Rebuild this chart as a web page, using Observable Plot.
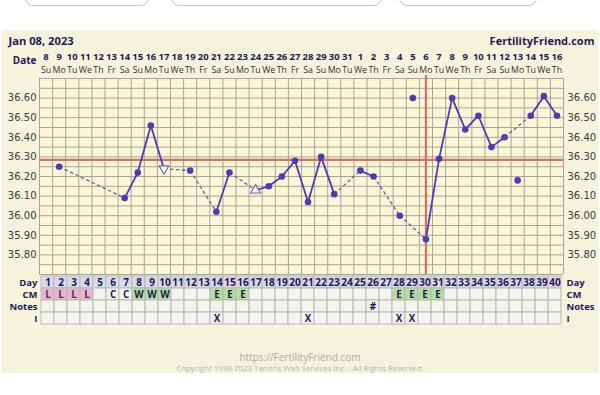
<!DOCTYPE html>
<html><head><meta charset="utf-8">
<script src="https://cdn.jsdelivr.net/npm/d3@7"></script>
<script src="https://cdn.jsdelivr.net/npm/@observablehq/plot@0.6"></script>
<style>
body{margin:0;background:#fff;font-family:"Open Sans",sans-serif;}
#wrap{position:relative;width:600px;height:395px;overflow:hidden;background:#fff;}
.btn{position:absolute;top:-22px;height:26px;border:1px solid #c4c4c4;border-radius:8px;background:#fff;}
#panel{position:absolute;left:2px;top:30px;width:596px;height:343px;background:#f6f3dd;}
.layer{position:absolute;left:0;top:0;}
.foot{position:absolute;left:0;width:600px;text-align:center;color:#aaa;font-family:"Open Sans",sans-serif;white-space:nowrap;}
</style></head><body>
<div id="wrap">
  <div class="btn" style="left:25px;width:122px"></div>
  <div class="btn" style="left:171px;width:209px"></div>
  <div class="btn" style="left:399px;width:136px"></div>
  <div id="panel"></div>
  <div id="chart" class="layer"></div>
  <div id="table" class="layer"></div>
  <div class="foot" style="top:351px;height:12px;line-height:12px;font-size:10px;color:#a9a9a9">https://FertilityFriend.com</div>
  <div class="foot" style="top:364px;height:9px;line-height:9px;font-size:7.8px;color:#b5b5b5">Copyright 1998-2023 Tamtris Web Services Inc. - All Rights Reserved.</div>
</div>
<script>
// ---------- data ----------
const chartDate = "Jan 08, 2023";
const siteName = "FertilityFriend.com";
const dateLabels = ["8","9","10","11","12","13","14","15","16","17","18","19","20","21","22","23","24","25","26","27","28","29","30","31","1","2","3","4","5","6","7","8","9","10","11","12","13","14","15","16"];
const weekdayLabels = ["Su","Mo","Tu","We","Th","Fr","Sa","Su","Mo","Tu","We","Th","Fr","Sa","Su","Mo","Tu","We","Th","Fr","Sa","Su","Mo","Tu","We","Th","Fr","Sa","Su","Mo","Tu","We","Th","Fr","Sa","Su","Mo","Tu","We","Th"];
const tempDays = [2,7,8,9,10,12,14,15,17,18,19,20,21,22,23,25,26,28,30,31,32,33,34,35,36,38,39,40];
const temps    = [36.25,36.09,36.22,36.46,36.24,36.23,36.02,36.22,36.13,36.15,36.20,36.28,36.07,36.30,36.11,36.23,36.20,36.00,35.88,36.29,36.60,36.44,36.51,36.35,36.40,36.51,36.61,36.51];
const openDays = [10,17];
const openDirections = ["down","up"];
const discardedDays = [29,37];
const discardedTemps = [36.60,36.18];
const coverline = 36.285;
const ovulationDay = 30;
const yTicks = [35.80,35.90,36.00,36.10,36.20,36.30,36.40,36.50,36.60];
const rowLabels = ["Day","CM","Notes","I"];
const cmDays  = [1,2,3,4,6,7,8,9,10,14,15,16,28,29,30,31];
const cmCodes = ["L","L","L","L","C","C","W","W","W","E","E","E","E","E","E","E"];
const noteDays = [26];
const noteTexts = ["#"];
const intercourseDays = [14,21,28,29];

// ---------- derived ----------
const cycleDays = dateLabels.map((_, i) => i + 1);
const points = tempDays.map((d, i) => ({day: d, temp: temps[i]}));
const segments = points.slice(1).map((p, i) => ({
  x1: points[i].day, y1: points[i].temp, x2: p.day, y2: p.temp,
  dashed: p.day - points[i].day > 1
}));
const openSet = new Map(openDays.map((d, i) => [d, openDirections[i]]));
const filledPts = points.filter(p => !openSet.has(p.day));
const openPts = points.filter(p => openSet.has(p.day)).map(p => ({...p, dir: openSet.get(p.day)}));
const discarded = discardedDays.map((d, i) => ({day: d, temp: discardedTemps[i]}));
const gridTemps = d3.range(0, 21).map(i => 35.70 + i * 0.05);
const gridDays = cycleDays.map(d => d - 0.5).concat([40.5]);

const W = 600, H = 395;
const LINE = "#4a3eb2";
const GRID = "#a6a598";
const RED = "#d8715f";
const NAVY = "#1d1d50";

const chart = Plot.plot({
  width: W, height: H,
  marginTop: 78, marginBottom: 121, marginLeft: 39, marginRight: 37,
  x: {domain: [0.5, 40.5], axis: null},
  y: {domain: [35.70, 36.70], axis: null},
  style: {background: "transparent", overflow: "visible"},
  marks: [
    Plot.frame({fill: "#faf6d6", stroke: null}),
    Plot.gridY({ticks: gridTemps, stroke: GRID, strokeOpacity: 1, strokeWidth: 1}),
    Plot.gridX({ticks: gridDays, stroke: GRID, strokeOpacity: 1, strokeWidth: 1}),
    Plot.ruleY([coverline], {stroke: RED, strokeWidth: 2.2}),
    Plot.ruleX([ovulationDay], {stroke: RED, strokeWidth: 2.2, y1: 35.70, y2: 36.715}),
    Plot.link(segments.filter(s => s.dashed), {x1: "x1", y1: "y1", x2: "x2", y2: "y2", stroke: "#6a6399", strokeWidth: 1.3, strokeDasharray: "3.5,2.5"}),
    Plot.link(segments.filter(s => !s.dashed), {x1: "x1", y1: "y1", x2: "x2", y2: "y2", stroke: LINE, strokeWidth: 1.8}),
    Plot.dot(filledPts, {x: "day", y: "temp", r: 3.3, fill: LINE, stroke: null}),
    Plot.dot(discarded, {x: "day", y: "temp", r: 3.3, fill: LINE, stroke: null}),
    Plot.dot(openPts, {x: "day", y: "temp", symbol: "triangle", r: 3.6, fill: "#ffffff", stroke: "#6a63a8", strokeWidth: 1.1, rotate: d => d.dir === "down" ? 180 : 0}),
    // y-axis labels
    Plot.text(yTicks, {y: d => d, text: d => d.toFixed(2), frameAnchor: "left", dx: -3, textAnchor: "end", fontSize: 10, fontFamily: "DejaVu Sans", fill: "#3c3c3c"}),
    Plot.text(yTicks, {y: d => d, text: d => d.toFixed(2), frameAnchor: "right", dx: 4, textAnchor: "start", fontSize: 10, fontFamily: "DejaVu Sans", fill: "#3c3c3c"}),
    // date rows
    Plot.text(cycleDays, {x: d => d, text: d => dateLabels[d - 1], frameAnchor: "top", dy: -25, fontSize: 9.5, fontWeight: "bold", fill: NAVY}),
    Plot.text(cycleDays, {x: d => d, text: d => weekdayLabels[d - 1], frameAnchor: "top", dy: -12, fontSize: 8.8, fill: "#333"}),
    Plot.text(["Date"], {frameAnchor: "top-left", dx: -3, dy: -22, textAnchor: "end", fontSize: 10, fontWeight: "bold", fill: NAVY}),
    Plot.text([chartDate], {frameAnchor: "top-left", dx: -31, dy: -41, textAnchor: "start", fontSize: 11.2, fontWeight: "bold", fill: NAVY}),
    Plot.text([siteName], {frameAnchor: "top-right", dx: 31, dy: -41, textAnchor: "end", fontSize: 11, fontWeight: "bold", fill: NAVY})
  ]
});
chart.style.fontFamily = "'Open Sans', sans-serif";
document.getElementById("chart").appendChild(chart);

// ---------- table ----------
const cmMap = new Map(cmDays.map((d, i) => [d, cmCodes[i]]));
const cmFill = {L: "#e9b7cb", W: "#b3df9f", E: "#b3df9f"};
const cells = [];
for (const d of cycleDays) for (const r of rowLabels) {
  let fill = "#f4f4ef";
  if (r === "Day") fill = "#dadaee";
  if (r === "CM" && cmMap.has(d) && cmFill[cmMap.get(d)]) fill = cmFill[cmMap.get(d)];
  cells.push({day: d, row: r, fill});
}
const cmTexts = cmDays.map((d, i) => ({day: d, row: "CM", text: cmCodes[i]}));
const noteCells = noteDays.map((d, i) => ({day: d, row: "Notes", text: noteTexts[i]}));
const iCells = intercourseDays.map(d => ({day: d, row: "I", text: "X"}));

const table = Plot.plot({
  width: W, height: H,
  marginTop: 275, marginBottom: 70, marginLeft: 39, marginRight: 37,
  x: {type: "band", domain: cycleDays, padding: 0, axis: null},
  y: {type: "band", domain: rowLabels, padding: 0, axis: null},
  color: {type: "identity"},
  style: {background: "transparent", overflow: "visible"},
  marks: [
    Plot.cell(cells, {x: "day", y: "row", fill: "fill", stroke: "#b9b9b2", strokeWidth: 1, inset: 0}),
    Plot.text(cycleDays, {x: d => d, y: () => "Day", text: d => String(d), fontSize: 10, fontWeight: "bold", fill: NAVY}),
    Plot.text(cmTexts, {x: "day", y: "row", text: "text", fontSize: 9.8, fontWeight: "bold", fill: d => d.text === "L" ? "#5a2a6c" : NAVY}),
    Plot.text(noteCells, {x: "day", y: "row", text: "text", fontSize: 9.8, fontWeight: "bold", fill: NAVY}),
    Plot.text(iCells, {x: "day", y: "row", text: "text", fontSize: 9.8, fontWeight: "bold", fill: NAVY}),
    Plot.text(rowLabels, {y: d => d, text: d => d, frameAnchor: "left", dx: -2, textAnchor: "end", fontSize: 9.5, fontWeight: "bold", fill: NAVY, letterSpacing: "-0.6px"}),
    Plot.text(rowLabels, {y: d => d, text: d => d, frameAnchor: "right", dx: 3, textAnchor: "start", fontSize: 9.5, fontWeight: "bold", fill: NAVY, letterSpacing: "-0.6px"})
  ]
});
table.style.fontFamily = "'Open Sans', sans-serif";
document.getElementById("table").appendChild(table);
</script>
</body></html>
